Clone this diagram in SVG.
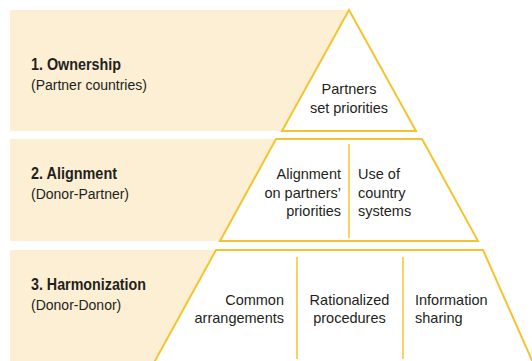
<svg xmlns="http://www.w3.org/2000/svg" width="532" height="361" viewBox="0 0 532 361">
<style>
.band{fill:#FCEFD4;stroke:none}
.tier{fill:#FFFFFF;stroke:#F4C430;stroke-width:2;stroke-linejoin:miter}
.div{stroke:#F4C430;stroke-width:1.5}
text{font-family:"Liberation Sans",Arial,sans-serif;fill:#231F20;font-size:14.5px}
.title{font-weight:bold;font-size:16px}
.sub{font-size:14px}
.r{text-anchor:end}
.m{text-anchor:middle}
</style>
<rect width="532" height="361" fill="#FFFFFF"/>
<g id="ownership">
<polygon class="band" points="10,10 349,10 282,131 10,131"/>
<polygon class="tier" points="349,10 416,131 282,131"/>
<text class="title" x="31" y="70" textLength="90" lengthAdjust="spacingAndGlyphs">1. Ownership</text>
<text class="sub" x="31" y="89.5">(Partner countries)</text>
<text class="m" x="349" y="94">Partners</text>
<text class="m" x="349" y="112.5">set priorities</text>
</g>
<g id="alignment">
<polygon class="band" points="10,139 276,139 220,241 10,241"/>
<polygon class="tier" points="276,139 422,139 478,241 220,241"/>
<line class="div" x1="349" y1="144" x2="349" y2="238"/>
<text class="title" x="31" y="179" textLength="86" lengthAdjust="spacingAndGlyphs">2. Alignment</text>
<text class="sub" x="31" y="199">(Donor-Partner)</text>
<text class="r" x="341" y="179">Alignment</text>
<text class="r" x="341" y="197.5">on partners’</text>
<text class="r" x="341" y="216">priorities</text>
<text x="358" y="179">Use of</text>
<text x="358" y="197.5">country</text>
<text x="358" y="216">systems</text>
</g>
<g id="harmonization">
<polygon class="band" points="10,250 216,250 152.7,365 10,365"/>
<polyline class="tier" points="152.7,365 216,250 483,250 535.4,368"/>
<line class="div" x1="297" y1="257" x2="297" y2="359"/>
<line class="div" x1="403" y1="257" x2="403" y2="359"/>
<text class="title" x="31" y="290" textLength="115" lengthAdjust="spacingAndGlyphs">3. Harmonization</text>
<text class="sub" x="31" y="309.5">(Donor-Donor)</text>
<text class="r" x="284" y="304.5">Common</text>
<text class="r" x="284" y="322.5">arrangements</text>
<text class="m" x="349.5" y="304.5">Rationalized</text>
<text class="m" x="349.5" y="322.5">procedures</text>
<text x="415" y="304.5">Information</text>
<text x="415" y="322.5">sharing</text>
</g>
<g id="connectors"/>
</svg>
